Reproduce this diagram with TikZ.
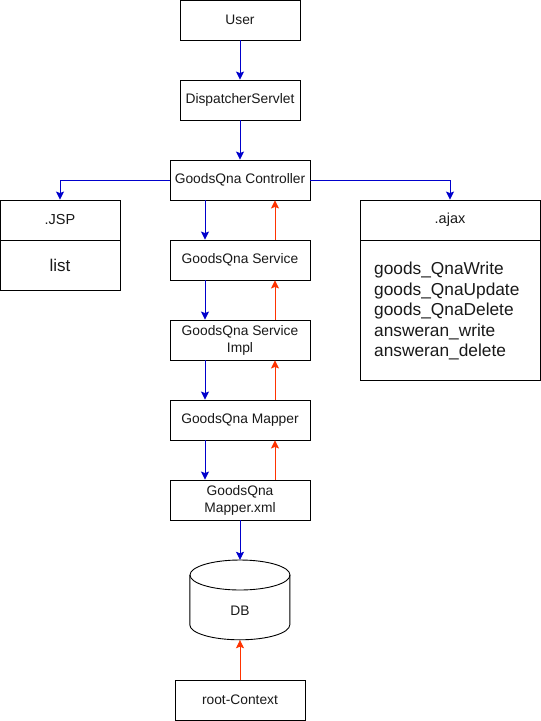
\documentclass[tikz,border=0pt]{standalone}
\usepackage{fontspec}
\setmainfont{Liberation Sans}
\usetikzlibrary{arrows.meta}
\definecolor{flowblue}{RGB}{0,0,204}
\definecolor{flowred}{RGB}{255,51,0}
\tikzset{
  box/.style={draw=black, line width=0.9pt, fill=white, inner sep=0pt, align=center,
    font=\fontsize{13.8}{17}\selectfont, text=black!90},
  boxw/.style={box, minimum width=140pt, minimum height=40pt},
  boxn/.style={box, minimum width=120pt, minimum height=40pt},
  arr/.style={line width=0.9pt, -{Stealth[length=8pt,width=8pt,inset=1.5pt]}},
  dn/.style={arr, draw=flowblue},
  up/.style={arr, draw=flowred},
}
\begin{document}
\begin{tikzpicture}[x=1pt,y=-1pt]
\useasboundingbox (0,0) rectangle (541,721);
\node[boxn] (user) at (240,20) {User};
\node[boxn] (disp) at (240,100) {DispatcherServlet};
\node[boxw] (ctrl) at (240,180) {GoodsQna Controller};
\node[boxw] (svc) at (240,260) {GoodsQna Service};
\node[boxw] (impl) at (240,340) {GoodsQna Service\\Impl};
\node[boxw] (mapper) at (240,420) {GoodsQna Mapper};
\node[boxw] (xml) at (240,500) {GoodsQna\\Mapper.xml};
\node[box, minimum width=130pt, minimum height=40pt] (root) at (240,700) {root-Context};
% JSP
\node[box, minimum width=120pt, minimum height=40pt, font=\fontsize{14.5}{17}\selectfont] (jsphead) at (60,220) {.JSP};
\node[box, minimum width=120pt, minimum height=50pt, font=\fontsize{17}{20}\selectfont] (jspbody) at (60,265) {list};
% ajax
\node[box, minimum width=180pt, minimum height=40pt, font=\fontsize{14.5}{17}\selectfont] (ajaxhead) at (450,220) {.ajax};
\node[box, minimum width=180pt, minimum height=140pt] (ajaxbody) at (450,310) {};
\node[anchor=west, align=left, inner sep=0pt, text=black!90, font=\fontsize{17.3}{20.5}\selectfont] (ajaxlist) at (374,311) {goods\_QnaWrite\\goods\_QnaUpdate\\goods\_QnaDelete\\answeran\_write\\answeran\_delete};
% DB cylinder
\node[minimum width=100pt, minimum height=80pt, inner sep=0pt] (db) at (240,600) {};
\draw[line width=0.9pt, fill=white] (db.north west) ++(0,15) -- ++(0,50) arc[start angle=180, end angle=360, x radius=50, y radius=-15] -- ++(0,-50);
\draw[line width=0.9pt] (240,575) ellipse[x radius=50, y radius=15];
\node[font=\fontsize{13.8}{17}\selectfont, text=black!90] (dblabel) at (240,611) {DB};
% connectors
\draw[dn] (user) -- (disp);
\draw[dn] (disp) -- (ctrl);
\draw[dn] (ctrl.west) -| (jsphead.north);
\draw[dn] (ctrl.east) -| (ajaxhead.north);
\foreach \a/\b in {ctrl/svc, svc/impl, impl/mapper, mapper/xml} {
  \draw[dn] ([xshift=-35pt]\a.south) -- ([xshift=-35pt]\b.north);
  \draw[up] ([xshift=35pt]\b.north) -- ([xshift=35pt]\a.south);
}
\draw[dn] (xml.south) -- (db.north);
\draw[up] (root.north) -- (db.south);
\end{tikzpicture}
\end{document}
